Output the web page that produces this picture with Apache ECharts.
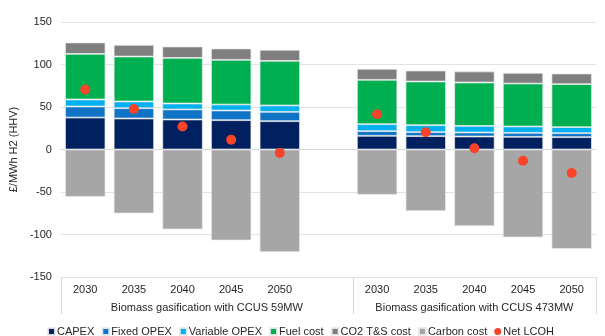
<!DOCTYPE html>
<html>
<head>
<meta charset="utf-8">
<script src="https://cdn.jsdelivr.net/npm/echarts@6/dist/echarts.min.js"></script>
<style>html,body{margin:0;padding:0;background:#fff;}#c{width:605px;height:336px;}</style>
</head>
<body>
<div id="c"></div>
<script>
const categories = ['2030','2035','2040','2045','2050','','2030','2035','2040','2045','2050'];
const groupNames = ['Biomass gasification with CCUS 59MW','Biomass gasification with CCUS 473MW'];
const capex        = [37.6, 36.5, 35.3, 34.5, 33.3, '-', 16.1, 15.7, 15.3, 14.9, 14.5];
const fixedOpex    = [13.0, 12.1, 11.8, 11.4, 11.0, '-', 5.5, 4.7, 4.7, 4.7, 4.7];
const variableOpex = [8.2, 7.9, 7.0, 7.0, 7.5, '-', 8.2, 8.2, 7.8, 7.5, 7.1];
const fuelCost     = [53.7, 52.9, 53.7, 52.6, 52.5, '-', 52.2, 51.4, 51.0, 50.5, 50.6];
const co2TsCost    = [13.4, 13.7, 13.4, 13.3, 13.0, '-', 12.9, 12.9, 13.0, 12.6, 12.5];
const carbonCost   = [-55.7, -75.3, -94.1, -107.0, -120.8, '-', -53.3, -72.5, -90.2, -103.5, -116.9];
const netLcoh      = [70.5, 47.6, 27.1, 11.4, -4.0, '-', 41.4, 20.2, 1.4, -13.3, -27.6];
const yTicks = [-150, -100, -50, 0, 50, 100, 150];

const font = 'Liberation Sans, Arial, sans-serif';
const txt = '#262626';
const chart = echarts.init(document.getElementById('c'), null, {renderer: 'canvas'});
const barStyle = c => ({color: c, borderColor: 'rgba(235,235,235,0.9)', borderWidth: 0.8});
function bar(name, data, color) {
  return {name, type: 'bar', stack: 'total', data, barCategoryGap: '17%',
    itemStyle: barStyle(color), xAxisIndex: 0, yAxisIndex: 0, animation: false};
}
chart.setOption({
  animation: false,
  textStyle: {fontFamily: font},
  grid: {left: 43, right: 9, top: 22, bottom: 59},
  legend: {
    left: 42, top: 321, itemWidth: 7, itemHeight: 7, itemGap: 7,
    textStyle: {fontFamily: font, fontSize: 11, color: txt, padding: [0, 0, 0, -3]},
    data: [
      {name: 'CAPEX', icon: 'rect'}, {name: 'Fixed OPEX', icon: 'rect'},
      {name: 'Variable OPEX', icon: 'rect'}, {name: 'Fuel cost', icon: 'rect'},
      {name: 'CO2 T&S cost', icon: 'rect'}, {name: 'Carbon cost', icon: 'rect'},
      {name: 'Net LCOH', icon: 'circle'}
    ]
  },
  xAxis: [
    {type: 'category', data: categories, position: 'bottom',
     axisLine: {show: true, lineStyle: {color: '#d9d9d9', width: 1}},
     axisTick: {show: false},
     axisLabel: {fontFamily: font, fontSize: 11, color: txt, margin: 7, interval: 0},
     splitLine: {show: false}},
    {type: 'value', min: 0, max: 11, position: 'bottom', gridIndex: 0,
     axisLine: {show: false},
     splitLine: {show: false},
     axisTick: {show: true, length: 37, customValues: [0, 6, 11], lineStyle: {color: '#d9d9d9'}},
     axisLabel: {show: true, customValues: [3, 8.5], margin: 25, fontFamily: font, fontSize: 11, color: txt,
       formatter: v => (v < 6 ? groupNames[0] : groupNames[1])}}
  ],
  yAxis: {
    type: 'value', min: yTicks[0], max: yTicks[yTicks.length - 1], interval: 50,
    name: '£/MWh H2 (HHV)', nameLocation: 'middle', nameGap: 27, nameRotate: 90,
    nameTextStyle: {fontFamily: font, fontSize: 11, color: txt},
    axisLine: {show: false}, axisTick: {show: false},
    axisLabel: {fontFamily: font, fontSize: 11, color: txt, margin: 9},
    splitLine: {lineStyle: {color: '#e3e3e3', width: 1}}
  },
  series: [
    bar('CAPEX', capex, '#002060'),
    bar('Fixed OPEX', fixedOpex, '#0F73C6'),
    bar('Variable OPEX', variableOpex, '#00B0F0'),
    bar('Fuel cost', fuelCost, '#00B050'),
    bar('CO2 T&S cost', co2TsCost, '#7F7F7F'),
    bar('Carbon cost', carbonCost, '#A6A6A6'),
    {name: 'Net LCOH', type: 'scatter', data: netLcoh, symbol: 'circle', symbolSize: 10,
     itemStyle: {color: '#F8452A', opacity: 1}, xAxisIndex: 0, yAxisIndex: 0, z: 5}
  ]
});
</script>
</body>
</html>
